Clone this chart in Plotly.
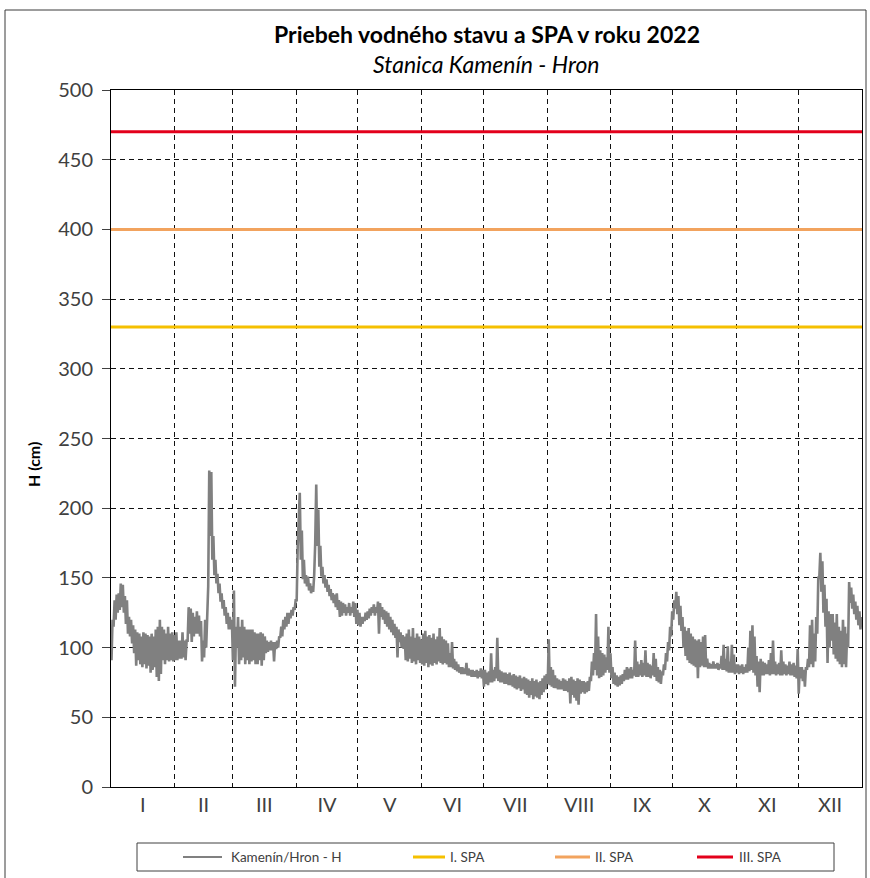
import plotly.graph_objects as go

# ---- data -----------------------------------------------------------------
month_labels = ["I", "II", "III", "IV", "V", "VI", "VII", "VIII", "IX", "X", "XI", "XII"]
month_days = [31, 28, 31, 30, 31, 30, 31, 31, 30, 31, 30, 31]

series_name = "Kamenín/Hron - H"

# daily maximum water level H [cm], one row per month
h_max = [
    # I
    120, 134, 138, 139, 146, 145, 137, 134, 122, 120, 116, 113, 111, 110, 108, 111,
    110, 109, 108, 110, 108, 113, 115, 120, 115, 113, 110, 115, 110, 111, 109,
    # II
    111, 105, 105, 111, 105, 105, 129, 128, 125, 122, 126, 123, 119, 105, 120, 120,
    227, 226, 180, 163, 153, 146, 139, 134, 129, 125, 122, 120,
    # III
    141, 115, 122, 115, 120, 115, 113, 113, 113, 113, 111, 110, 110, 111, 110, 108,
    105, 104, 105, 104, 104, 105, 108, 115, 120, 122, 125, 125, 127, 129, 134,
    # IV
    173, 211, 184, 163, 152, 151, 146, 144, 152, 217, 199, 173, 158, 152, 149, 145,
    142, 139, 138, 139, 134, 133, 132, 131, 129, 132, 129, 133, 132, 127,
    # V
    125, 122, 122, 125, 126, 128, 129, 131, 129, 133, 132, 129, 127, 126, 125, 122,
    120, 117, 115, 113, 111, 109, 108, 110, 113, 108, 114, 107, 110, 108, 106,
    # VI
    110, 112, 108, 109, 107, 110, 106, 108, 114, 108, 106, 105, 103, 96, 104, 92,
    90, 88, 86, 86, 85, 89, 85, 84, 84, 83, 84, 83, 85, 84,
    # VII
    84, 82, 83, 96, 84, 86, 107, 84, 83, 82, 82, 81, 82, 80, 81, 80,
    79, 80, 78, 79, 78, 77, 76, 78, 76, 77, 75, 76, 78, 80, 81,
    # VIII
    106, 86, 84, 80, 78, 77, 76, 78, 77, 76, 78, 79, 77, 76, 78, 77,
    76, 76, 75, 76, 79, 90, 96, 124, 108, 98, 96, 95, 93, 115, 96,
    # IX
    86, 82, 80, 79, 80, 81, 84, 86, 85, 86, 84, 105, 90, 88, 91, 89,
    98, 89, 88, 87, 96, 92, 86, 84, 83, 88, 96, 104, 115, 126,
    # X
    134, 140, 137, 130, 122, 115, 112, 114, 110, 108, 106, 105, 106, 104, 108, 109,
    92, 89, 88, 90, 88, 89, 88, 94, 102, 92, 101, 90, 102, 95, 88,
    # XI
    88, 87, 88, 86, 88, 100, 112, 116, 108, 94, 90, 92, 90, 89, 88, 91,
    96, 105, 90, 88, 89, 98, 90, 88, 87, 90, 88, 89, 87, 99,
    # XII
    86, 86, 84, 86, 92, 116, 120, 110, 122, 150, 168, 162, 145, 135, 126, 124,
    124, 118, 124, 115, 112, 120, 115, 110, 147, 143, 138, 133, 130, 126, 122,
]

# daily minimum water level H [cm]
h_min = [
    # I
    91, 115, 120, 125, 127, 129, 125, 117, 110, 108, 103, 96, 87, 91, 88, 86,
    88, 85, 87, 82, 84, 86, 79, 76, 81, 91, 88, 91, 90, 91, 90,
    # II
    91, 91, 92, 92, 93, 91, 105, 110, 104, 108, 110, 110, 108, 90, 93, 100,
    144, 180, 163, 152, 146, 139, 133, 128, 123, 117, 113, 113,
    # III
    91, 72, 100, 88, 91, 93, 88, 91, 88, 90, 91, 88, 88, 91, 87, 91,
    96, 97, 98, 98, 90, 99, 100, 107, 108, 113, 115, 117, 121, 123, 127,
    # IV
    134, 187, 163, 149, 146, 144, 141, 139, 140, 175, 173, 158, 151, 146, 143, 140,
    137, 134, 132, 129, 127, 122, 123, 125, 123, 125, 123, 125, 122, 117,
    # V
    116, 115, 117, 119, 120, 121, 123, 125, 123, 125, 110, 122, 120, 117, 115, 113,
    111, 109, 107, 93, 104, 100, 99, 91, 90, 92, 89, 90, 88, 91, 89,
    # VI
    88, 87, 89, 86, 88, 87, 89, 88, 90, 89, 88, 89, 88, 86, 86, 85,
    84, 83, 82, 81, 81, 81, 80, 80, 79, 79, 79, 78, 79, 78,
    # VII
    72, 74, 73, 75, 75, 76, 78, 76, 75, 75, 74, 74, 73, 73, 72, 71,
    70, 71, 69, 70, 67, 66, 64, 66, 63, 65, 64, 63, 66, 68, 70,
    # VIII
    74, 73, 72, 71, 71, 70, 70, 70, 69, 69, 68, 60, 66, 64, 62, 59,
    67, 68, 67, 68, 69, 76, 80, 84, 80, 78, 79, 80, 82, 84, 82,
    # IX
    78, 74, 73, 72, 73, 74, 76, 77, 77, 78, 78, 80, 79, 79, 80, 79,
    80, 79, 79, 78, 80, 79, 76, 75, 74, 80, 84, 90, 98, 108,
    # X
    120, 128, 124, 116, 112, 100, 94, 91, 89, 88, 87, 86, 78, 86, 87, 86,
    86, 85, 85, 85, 85, 85, 84, 85, 84, 84, 83, 82, 82, 82, 81,
    # XI
    82, 81, 82, 81, 82, 82, 83, 84, 82, 80, 72, 68, 80, 80, 81, 81,
    80, 81, 81, 80, 81, 80, 80, 81, 80, 81, 80, 80, 79, 78,
    # XII
    67, 78, 76, 72, 84, 86, 88, 86, 90, 110, 150, 140, 125, 115, 89, 100,
    105, 95, 92, 90, 88, 86, 88, 86, 100, 132, 128, 124, 120, 116, 113,
]

# flood warning levels (stupne povodňovej aktivity)
spa_names = ["I. SPA", "II. SPA", "III. SPA"]
spa_levels = [330, 400, 470]

# ---- styling --------------------------------------------------------------
FONT = "Lato"
GRAY = "#808080"
TEXT = "#404040"
spa_colors = ["#F5C000", "#F2A35E", "#E3001B"]

W, H = 870, 878
ML, MR, MT, MB = 111, 8, 90, 91
PW, PH = W - ML - MR, H - MT - MB


def px(xp):
    return (xp - ML) / PW


def py(yp):
    return (H - MB - yp) / PH


# month geometry on a day-of-year axis
month_start = [0]
for n in month_days:
    month_start.append(month_start[-1] + n)
month_mid = [month_start[i] + month_days[i] / 2 for i in range(12)]
year_len = month_start[-1]

# two readings per day: low in the morning, high in the afternoon
xs, ys = [], []
for d, (lo, hi) in enumerate(zip(h_min, h_max)):
    xs += [d + 0.25, d + 0.75]
    ys += [lo, hi]

fig = go.Figure()
fig.add_trace(go.Scatter(
    x=xs, y=ys, mode="lines", name=series_name,
    line=dict(color=GRAY, width=2.6), showlegend=False,
))
for name, lvl, col in zip(spa_names, spa_levels, spa_colors):
    fig.add_trace(go.Scatter(
        x=[0, year_len], y=[lvl, lvl], mode="lines", name=name,
        line=dict(color=col, width=3), showlegend=False,
    ))

grid = dict(gridcolor="#111111", gridwidth=1, griddash="5px,4px")

fig.update_xaxes(
    range=[0, year_len], tickmode="array", tickvals=month_mid, ticktext=month_labels,
    showgrid=False, zeroline=False, ticks="",
    minor=dict(tickmode="array", tickvals=month_start[1:-1], showgrid=True, ticks="", **grid),
    showline=True, mirror=True, linecolor="#000000", linewidth=1,
    tickfont=dict(family=FONT, size=20, color=TEXT),
)
fig.update_yaxes(
    range=[0, 500], dtick=50, tick0=0, showgrid=True, **grid, zeroline=False,
    ticks="outside", ticklen=8, tickcolor=TEXT, tickwidth=1, ticklabelstandoff=5,
    showline=True, mirror=True, linecolor="#000000", linewidth=1,
    tickfont=dict(family=FONT, size=20, color=TEXT),
)

annotations = [
    dict(text="<b>Priebeh vodného stavu a SPA v roku 2022</b>", x=0.5, y=py(34),
         font=dict(family=FONT, size=23, color="#000000")),
    dict(text="<i>Stanica Kamenín - Hron</i>", x=0.5, y=py(64),
         font=dict(family=FONT, size=23, color="#000000")),
    dict(text="<b>H (cm)</b>", x=px(33), y=py(465), textangle=-90,
         font=dict(family=FONT, size=16, color="#000000")),
]
for a in annotations:
    a.update(xref="paper", yref="paper", showarrow=False, xanchor="center", yanchor="middle")

shapes = [
    # outer chart frame
    dict(type="rect", xref="paper", yref="paper", x0=px(5), x1=px(866), y0=py(890), y1=py(10),
         line=dict(color="#3a3a3a", width=1), layer="below"),
    # legend box
    dict(type="rect", xref="paper", yref="paper", x0=px(137), x1=px(834), y0=py(871), y1=py(843),
         line=dict(color=TEXT, width=1)),
]

# legend entries: sample line + label
legend_items = [(series_name, GRAY, 2, 183, 222, 229)] + [
    (n, c, 3, x0, x1, xt) for n, c, (x0, x1, xt) in
    zip(spa_names, spa_colors, [(413, 445, 448), (555, 590, 593), (697, 733, 737)])
]
for name, col, lw, x0, x1, xt in legend_items:
    shapes.append(dict(type="line", xref="paper", yref="paper", x0=px(x0), x1=px(x1),
                       y0=py(857), y1=py(857), line=dict(color=col, width=lw)))
    annotations.append(dict(text=name, xref="paper", yref="paper", x=px(xt), y=py(857),
                            xanchor="left", yanchor="middle", showarrow=False,
                            font=dict(family=FONT, size=13.5, color=TEXT)))

fig.update_layout(
    width=W, height=H,
    margin=dict(l=ML, r=MR, t=MT, b=MB, pad=0),
    paper_bgcolor="#ffffff", plot_bgcolor="#ffffff",
    annotations=annotations, shapes=shapes,
    showlegend=False,
)

fig.write_html("out.html")
